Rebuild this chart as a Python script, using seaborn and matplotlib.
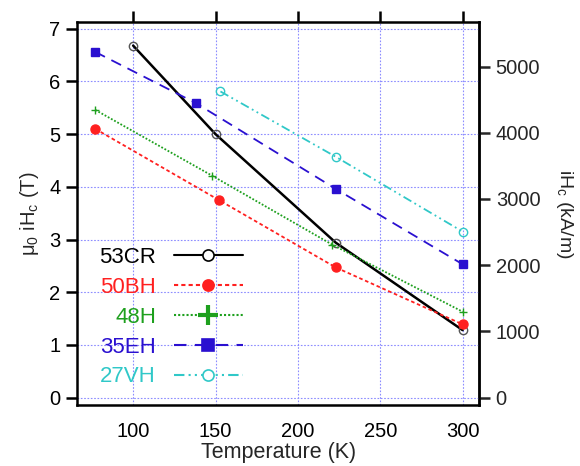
import numpy as np
import pandas as pd
import matplotlib
matplotlib.use("Agg")
import matplotlib.pyplot as plt
from matplotlib.lines import Line2D
import seaborn as sns

# values (temperature in K, coercivity in T)
t_53cr = [100, 150, 223, 300]
hc_53cr = [6.68, 5.00, 2.94, 1.28]

t_50bh = [77, 152, 223, 300]
hc_50bh = [5.10, 3.75, 2.47, 1.39]

t_48h = [77, 148, 221, 300]
hc_48h = [5.46, 4.21, 2.90, 1.63]

t_35eh = [77, 138, 223, 300]
hc_35eh = [6.56, 5.59, 3.96, 2.53]

t_27vh = [153, 223, 300]
hc_27vh = [5.81, 4.57, 3.15]

grades = ["53CR", "50BH", "48H", "35EH", "27VH"]
temps = [t_53cr, t_50bh, t_48h, t_35eh, t_27vh]
coers = [hc_53cr, hc_50bh, hc_48h, hc_35eh, hc_27vh]

colors = ["#000000", "#ff2020", "#1ea01e", "#2a10d0", "#30c8c8"]
styles = ["-", (0, (2, 1.5)), (0, (1, 1)), (0, (6, 4)), (0, (5, 2, 1, 2, 1, 2))]
markers = ["o", "o", "+", "s", "o"]
filled = [False, True, True, True, False]
msizes = [6, 6.5, 6, 6, 6]

sns.set_style("white")
plt.rcParams["font.family"] = ["Liberation Sans", "DejaVu Sans"]
plt.rcParams["mathtext.fontset"] = "custom"
plt.rcParams["mathtext.rm"] = "Liberation Sans"
plt.rcParams["mathtext.it"] = "Liberation Sans:italic"

fig, ax = plt.subplots(figsize=(5.8, 4.66), dpi=100)
fig.subplots_adjust(left=0.133, right=0.826, top=0.953, bottom=0.131)

for name, t, hc, c, ls, mk, fl, ms in zip(grades, temps, coers, colors, styles,
                                           markers, filled, msizes):
    df = pd.DataFrame({"T": t, "Hc": hc})
    sns.lineplot(data=df, x="T", y="Hc", ax=ax, color=c, linestyle=ls,
                 linewidth=1.8 if name == "53CR" else 1.3,
                 marker=mk, markersize=ms,
                 markerfacecolor=c if fl else "none",
                 markeredgecolor="#555555" if name == "53CR" else c,
                 markeredgewidth=1.0, legend=False)

ax.set_xlim(66, 310)
ax.set_ylim(-0.14, 7.13)
ax.set_xticks([100, 150, 200, 250, 300])
ax.set_yticks(range(0, 8))
ax.grid(True, color="#8c8cff", linestyle=(0, (1.5, 1.5)), linewidth=0.8)
for s in ax.spines.values():
    s.set_linewidth(1.8)
    s.set_color("black")
ax.tick_params(axis="both", direction="out", length=8, width=1.8,
               labelsize=14.5, colors="black", pad=4)
ax.tick_params(axis="x", top=True, labeltop=False)
ax.tick_params(axis="y", right=False, left=True)
ax.set_xlabel("Temperature (K)", fontsize=15.5, labelpad=1)
ax.set_ylabel(r"$\mathrm{\mu}_\mathrm{0}$ i$\mathrm{H}_\mathrm{c}$ (T)",
              fontsize=14.5, labelpad=6)

mu0 = 4 * np.pi * 1e-4  # T per kA/m
sec = ax.secondary_yaxis("right", functions=(lambda v: v / mu0, lambda v: v * mu0))
sec.set_yticks([0, 1000, 2000, 3000, 4000, 5000])
sec.tick_params(direction="out", length=8, width=1.8, labelsize=14.5, pad=4)
sec.spines["right"].set_linewidth(1.8)
sec.set_ylabel(r"i$\mathrm{H}_\mathrm{c}$ (kA/m)", fontsize=14,
               rotation=270, labelpad=25)

handles = []
for name, c, ls, mk, fl in zip(grades, colors, styles, markers, filled):
    big = {"+": 14, "s": 9, "o": 8}[mk]
    handles.append(Line2D([], [], color=c, linestyle=ls, linewidth=1.5,
                          marker=mk, markersize=big,
                          markerfacecolor=c if fl else "white",
                          markeredgecolor=c, markeredgewidth=3 if mk == "+" else 1.2))
leg = ax.legend(handles, grades, loc="upper left", bbox_to_anchor=(0.005, 0.465),
                frameon=False, markerfirst=False, handlelength=3.1,
                fontsize=16, labelspacing=0.4, handletextpad=0.8)
for txt, c in zip(leg.get_texts(), colors):
    txt.set_color(c)

fig.savefig("out.png", dpi=100)
